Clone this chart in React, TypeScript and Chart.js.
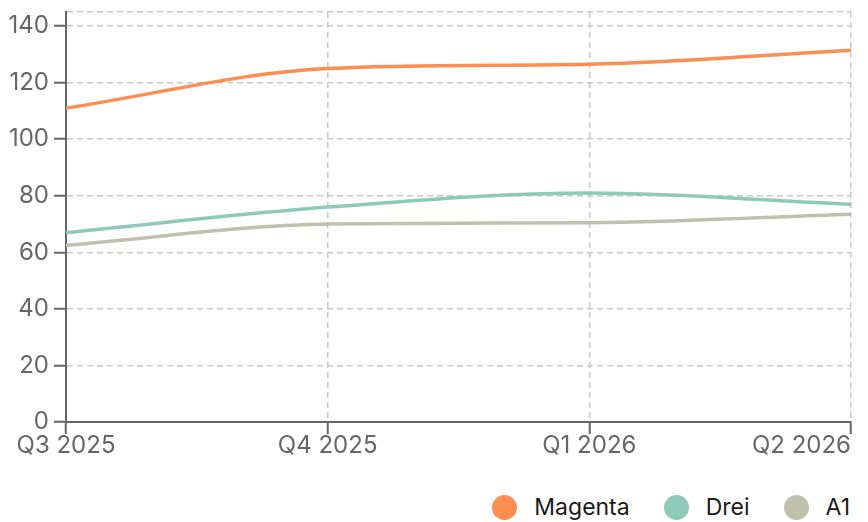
import React, { useEffect, useRef } from "react";
import { Chart, registerables } from "chart.js";

Chart.register(...registerables);

const categories = ["Q3 2025", "Q4 2025", "Q1 2026", "Q2 2026"];
const magenta = [111, 125, 126.5, 131.5];
const drei = [67, 76, 81, 77];
const a1 = [62.5, 70, 70.5, 73.5];
const seriesNames = ["Magenta", "Drei", "A1"];
const seriesColors = ["#fd8d50", "#8ecab8", "#bfc1ad"];
const yTicks = [0, 20, 40, 60, 80, 100, 120, 140];
const yMax = 145;

const FONT = "Inter, 'Noto Sans', sans-serif";
const FS = 24;

const xLabelPlugin = {
  id: "xLabels",
  afterDraw(chart: any) {
    const { ctx, chartArea, scales } = chart;
    const x = scales.x;
    ctx.save();
    ctx.font = `${FS}px ${FONT}`;
    ctx.fillStyle = "#666";
    ctx.textBaseline = "middle";
    categories.forEach((lab, i) => {
      const px = x.getPixelForValue(i);
      ctx.textAlign = i === categories.length - 1 ? "right" : "center";
      ctx.fillText(lab, px, chartArea.bottom + 24);
    });
    ctx.restore();
  },
};

export default function App() {
  const ref = useRef<HTMLCanvasElement>(null);
  useEffect(() => {
    const chart = new Chart(ref.current!, {
      type: "line",
      data: {
        labels: categories,
        datasets: [magenta, drei, a1].map((d, i) => ({
          label: seriesNames[i],
          data: d,
          borderColor: seriesColors[i],
          backgroundColor: seriesColors[i],
          borderWidth: 3.5,
          pointRadius: 0,
          cubicInterpolationMode: "monotone" as const,
          fill: false,
        })),
      },
      options: {
        animation: false,
        responsive: false,
        maintainAspectRatio: false,
        layout: { padding: { top: 4, right: 9, bottom: 34, left: 0 } },
        plugins: { legend: { display: false }, tooltip: { enabled: false } },
        scales: {
          x: {
            ticks: { display: false },
            grid: { color: "#c8c8c8", lineWidth: 1.5, tickLength: 12, tickColor: "#666", tickWidth: 2 },
            border: { color: "#666", width: 2, dash: [6, 4] },
          },
          y: {
            min: 0,
            max: yMax,
            afterBuildTicks(scale: any) {
              scale.ticks = [...yTicks, yMax].map((v) => ({ value: v }));
            },
            afterFit(scale: any) {
              scale.paddingTop = 0;
              scale.width = 58;
            },
            ticks: {
              padding: 5,
              color: "#666",
              font: { family: FONT, size: FS },
              autoSkip: false,
              callback: (v: any) => (v === yMax ? "" : String(v)),
            },
            grid: {
              color: "#c8c8c8",
              lineWidth: 1.5,
              tickLength: 12,
              tickWidth: 2,
              tickColor: (c: any) => (c.tick && c.tick.value === yMax ? "rgba(0,0,0,0)" : "#666"),
            },
            border: { color: "#666", width: 2, dash: [6, 4] },
          },
        },
      },
      plugins: [xLabelPlugin],
    });
    return () => chart.destroy();
  }, []);

  return (
    <div style={{ width: 852, fontFamily: FONT }}>
      <canvas ref={ref} width={852} height={460} style={{ display: "block" }} />
      <div
        style={{
          display: "flex",
          justifyContent: "flex-end",
          alignItems: "center",
          paddingTop: 27,
          paddingRight: 10,
          height: 25,
        }}
      >
        {seriesNames.map((n, i) => (
          <div key={n} style={{ display: "flex", alignItems: "center", marginLeft: i === 0 ? 0 : 34 }}>
            <span
              style={{
                width: 25,
                height: 25,
                borderRadius: "50%",
                background: seriesColors[i],
                display: "inline-block",
                marginRight: 17,
              }}
            />
            <span style={{ fontSize: 23, color: "#1a1a1a", lineHeight: "25px" }}>{n}</span>
          </div>
        ))}
      </div>
    </div>
  );
}
